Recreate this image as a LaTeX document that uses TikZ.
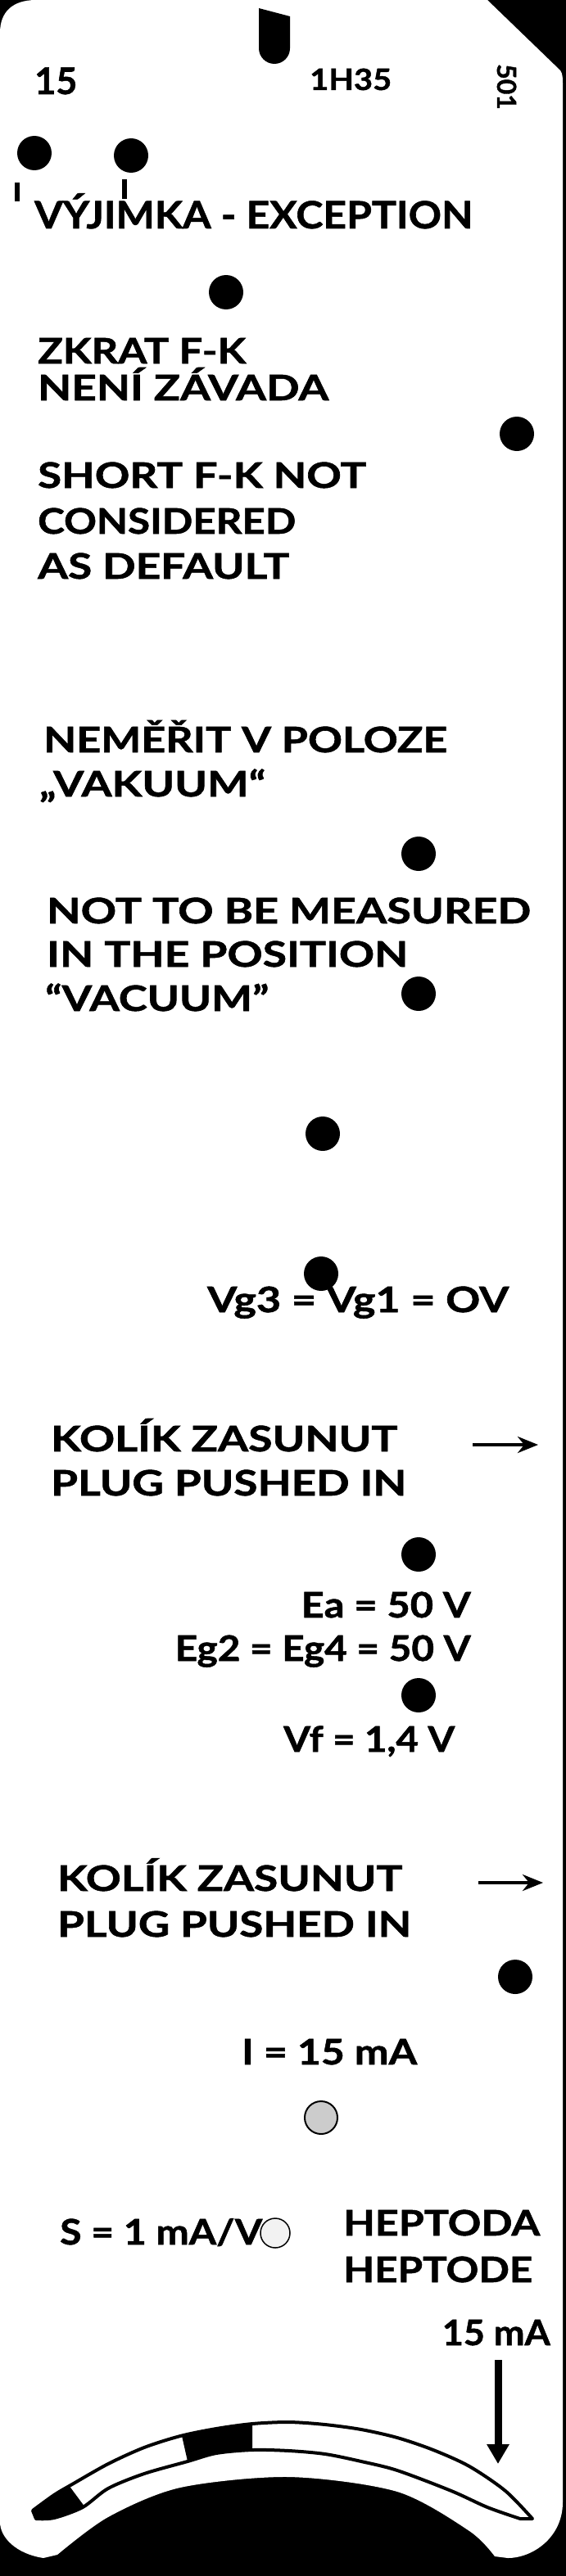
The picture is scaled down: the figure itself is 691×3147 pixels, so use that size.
\documentclass[tikz,border=0pt]{standalone}
\usepackage{fontspec}
\usepackage{graphicx}
\setmainfont{Lato}[BoldFeatures={FakeBold=1.2}]
\usetikzlibrary{arrows.meta}
\newcommand{\widen}[2]{\resizebox{#1bp}{\height}{#2}}
\begin{document}
\begin{tikzpicture}[x=1bp,y=-1bp,
  lbl/.style={anchor=base west,inner sep=0pt,font=\bfseries\fontsize{43bp}{50bp}\selectfont},
  lblr/.style={lbl,anchor=base east},
  hole/.style={circle,fill=black,inner sep=0pt,minimum size=42bp},
  pale/.style={circle,draw=black,line width=2bp,fill=black!20,inner sep=0pt,minimum size=40bp},
  plug/.style={line width=4bp,-{Stealth[length=25bp,width=20bp,inset=8bp]}},
  needle/.style={line width=9bp,-{Triangle[length=24bp,width=26bp]}}]
\useasboundingbox (0,0) rectangle (691,3147);
\fill[black] (0,0) rectangle (691,3147);
\fill[white] (0,40) .. controls (0,15) and (15,0) .. (44,0) -- (595,0) -- (684,86) .. controls (687,90) and (687,95) .. (687,105) -- (687,3057) .. controls (687,3100) and (650,3125) .. (620,3125) -- plot[smooth] coordinates {(604,3123) (573,3092) (485,3044) (353,3026) (220,3039) (132,3075) (70,3121)} -- (53,3125) .. controls (20,3120) and (0,3100) .. (0,3081) -- cycle;
\fill (316,10) -- (354,20) -- (354,59) arc[start angle=0,end angle=180,radius=19] -- cycle;
\node[lbl,font=\bfseries\fontsize{45bp}{50bp}\selectfont] (num) at (42,115) {15};
\node[lbl,font=\bfseries\fontsize{36bp}{50bp}\selectfont] (type) at (378,110) {\widen{100}{1H35}};
\node[lbl,rotate=-90,font=\bfseries\fontsize{32bp}{40bp}\selectfont] (card) at (607,78) {501};
\node[hole] (h1) at (42,187) {};
\node[hole] (h2) at (160,190) {};
\fill (18,223) rectangle (24,246);
\fill (149,219) rectangle (155,243);
\node[lbl,font=\bfseries\fontsize{46bp}{50bp}\selectfont] (exc) at (42,279) {\widen{535}{VÝJIMKA - EXCEPTION}};
\node[hole] (h3) at (276,357) {};
\node[lbl] (zk1) at (46,444) {\widen{254}{ZKRAT F-K}};
\node[lbl] (zk2) at (46,489) {\widen{355}{NENÍ ZÁVADA}};
\node[hole] (h4) at (631,530) {};
\node[lbl] (sh1) at (46,596) {\widen{401}{SHORT F-K NOT}};
\node[lbl] (sh2) at (46,652) {\widen{315}{CONSIDERED}};
\node[lbl] (sh3) at (46,707) {\widen{307}{AS DEFAULT}};
\node[lbl] (ne1) at (53,919) {\widen{493}{NEMĚŘIT V POLOZE}};
\node[lbl] (ne2) at (48,973) {\widen{276}{„VAKUUM“}};
\node[hole] (h5) at (511,1043) {};
\node[lbl] (nt1) at (57,1128) {\widen{591}{NOT TO BE MEASURED}};
\node[lbl] (nt2) at (57,1181) {\widen{441}{IN THE POSITION}};
\node[lbl] (nt3) at (55,1235) {\widen{273}{“VACUUM”}};
\node[hole] (h6) at (511,1214) {};
\node[hole] (h7) at (394,1385) {};
\node[hole] (h8) at (392,1556) {};
\node[lbl] (vg) at (253,1603) {\widen{368}{Vg3 = Vg1 = OV}};
\node[lbl] (ko1) at (62,1773) {\widen{423}{KOLÍK ZASUNUT}};
\node[lbl] (pl1) at (62,1827) {\widen{434}{PLUG PUSHED IN}};
\coordinate (a1) at (577,1765);
\coordinate (b1) at (657,1765);
\draw[plug] (a1) -- (b1);
\node[hole] (h9) at (511,1899) {};
\node[lblr] (ea) at (575,1976) {\widen{207}{Ea = 50 V}};
\node[lblr] (eg) at (575,2029) {\widen{361}{Eg2 = Eg4 = 50 V}};
\node[hole] (h10) at (511,2071) {};
\node[lbl] (vf) at (346,2140) {\widen{209}{Vf = 1,4 V}};
\node[lbl] (ko2) at (70,2310) {\widen{421}{KOLÍK ZASUNUT}};
\node[lbl] (pl2) at (70,2366) {\widen{432}{PLUG PUSHED IN}};
\coordinate (a2) at (584,2300);
\coordinate (b2) at (663,2300);
\draw[plug] (a2) -- (b2);
\node[hole] (h11) at (629,2415) {};
\node[lbl] (cur) at (295,2522) {\widen{214}{I = 15 mA}};
\node[pale] (h12) at (392,2587) {};
\node[pale,line width=1.5bp,fill=black!5,minimum size=36bp] (h13) at (336,2728) {};
\node[lbl] (sl) at (73,2742) {\widen{247}{S = 1 mA/V}};
\node[lbl] (hp1) at (419,2731) {\widen{240}{HEPTODA}};
\node[lbl] (hp2) at (419,2788) {\widen{231}{HEPTODE}};
\node[lblr] (ma) at (672,2865) {\widen{132}{15 mA}};
\coordinate (a3) at (608,2883);
\coordinate (b3) at (608,3010);
\draw[needle] (a3) -- (b3);
\begin{scope}
\clip plot[smooth] coordinates {(40,3067) (66,3048) (88,3035) (132,3010) (176,2990) (220,2976) (264,2967) (308,2961) (353,2959) (397,2962) (441,2968) (485,2978) (529,2993) (573,3013) (617,3043) (650,3077)} -- plot[smooth] coordinates {(635,3077) (595,3063) (551,3043) (485,3018) (441,3007) (397,2998) (353,2994) (308,2993) (264,2997) (229,3007) (176,3022) (132,3040) (101,3063) (66,3076) (44,3077)} -- cycle;
\fill (0,2950) -- (78,3028) -- (112,3074) -- (0,3100) -- cycle;
\fill (218,2958) -- (232,3020) -- (308,3010) -- (308,2950) -- cycle;
\end{scope}
\draw[line width=4bp,line join=round] plot[smooth] coordinates {(40,3067) (66,3048) (88,3035) (132,3010) (176,2990) (220,2976) (264,2967) (308,2961) (353,2959) (397,2962) (441,2968) (485,2978) (529,2993) (573,3013) (617,3043) (650,3077)} -- plot[smooth] coordinates {(635,3077) (595,3063) (551,3043) (485,3018) (441,3007) (397,2998) (353,2994) (308,2993) (264,2997) (229,3007) (176,3022) (132,3040) (101,3063) (66,3076) (44,3077)} -- cycle;
\end{tikzpicture}
\end{document}
